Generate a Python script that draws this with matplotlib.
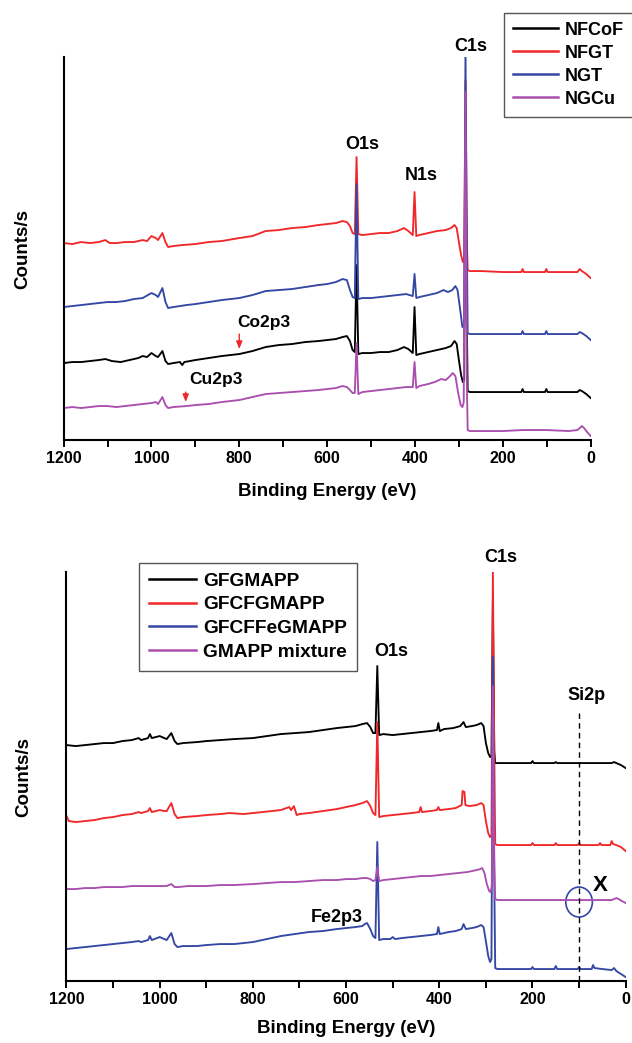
import numpy as np
import matplotlib
matplotlib.use('Agg')
import matplotlib.pyplot as plt
from matplotlib.patches import Ellipse

plt.rcParams['font.family'] = ['Liberation Sans', 'DejaVu Sans']
plt.rcParams['font.weight'] = 'bold'

# ---------------- top panel data (binding energy eV, counts offset) ----------------
nfcof_e = [1200, 1180, 1160, 1140, 1120, 1105, 1090, 1070, 1050, 1030, 1020, 1010, 1000, 990, 985, 975, 968, 962,
           950, 935, 930, 925, 900, 870, 840, 800, 770, 740, 710, 680, 650, 620, 600, 580, 565, 555, 548, 542, 537,
           533, 529, 520, 500, 480, 460, 440, 425, 415, 405, 401, 397, 390, 370, 350, 330, 318, 310, 305, 300, 295,
           291, 288, 285, 282, 280, 275, 250, 200, 158, 155, 152, 104, 101, 98, 50, 30, 25, 20, 10, 0]
nfcof_y = [77, 78, 78, 79, 80, 81, 79, 78, 80, 82, 84, 83, 87, 84, 83, 89, 79, 76,
           77, 78, 75, 78, 80, 82, 84, 86, 89, 93, 95, 96, 98, 99, 100, 101, 103, 104, 99, 90, 88,
           175, 86, 87, 87, 88, 88, 90, 93, 91, 87, 133, 85, 86, 88, 90, 92, 94, 99, 96, 80, 65,
           58, 60, 330, 120, 49, 48, 48, 48, 48, 51, 48, 48, 51, 48, 48, 48, 50, 49, 46, 42]

nfgt_e = [1200, 1180, 1160, 1140, 1120, 1105, 1095, 1080, 1060, 1040, 1020, 1010, 1000, 990, 985, 975, 968, 962,
          950, 930, 900, 870, 840, 800, 770, 740, 710, 680, 650, 620, 600, 580, 565, 555, 548, 542, 537,
          533, 529, 520, 500, 480, 460, 440, 425, 415, 405, 401, 397, 390, 370, 350, 330, 318, 310, 305, 300, 295,
          291, 288, 285, 282, 280, 275, 250, 200, 158, 155, 152, 104, 101, 98, 50, 30, 25, 20, 10, 0]
nfgt_y = [197, 196, 198, 197, 198, 200, 197, 197, 198, 198, 200, 199, 204, 202, 200, 207, 198, 193,
          194, 195, 196, 198, 199, 202, 204, 209, 210, 212, 213, 215, 216, 217, 219, 218, 214, 207, 206,
          283, 206, 205, 206, 207, 207, 209, 212, 209, 205, 248, 204, 205, 207, 209, 210, 212, 215, 212, 198, 185,
          178, 180, 360, 200, 170, 169, 169, 168, 168, 171, 168, 168, 171, 168, 168, 168, 171, 169, 166, 162]

ngt_e = [1200, 1180, 1160, 1140, 1120, 1100, 1080, 1060, 1040, 1020, 1000, 990, 985, 975, 968, 962,
         950, 920, 900, 870, 840, 800, 770, 740, 710, 680, 650, 620, 600, 580, 565, 555, 548, 542, 537,
         533, 529, 520, 500, 480, 460, 440, 420, 405, 401, 397, 390, 370, 350, 335, 325, 315, 308, 303, 297,
         292, 288, 285, 282, 280, 275, 200, 158, 155, 152, 104, 101, 98, 50, 30, 25, 20, 10, 0]
ngt_y = [133, 134, 135, 136, 137, 138, 138, 139, 141, 142, 147, 145, 143, 152, 138, 132,
         133, 135, 136, 138, 140, 142, 145, 149, 150, 151, 153, 155, 156, 158, 161, 160, 150, 143, 142,
         256, 141, 142, 142, 143, 144, 145, 146, 144, 166, 142, 143, 145, 147, 150, 148, 150, 154, 150, 130,
         113, 115, 390, 200, 107, 106, 106, 106, 109, 106, 106, 109, 106, 106, 106, 108, 107, 104, 100]

ngcu_e = [1200, 1180, 1160, 1140, 1120, 1100, 1080, 1060, 1040, 1020, 1000, 990, 985, 975, 968, 962,
          950, 920, 900, 870, 840, 800, 770, 740, 710, 680, 650, 620, 600, 580, 565, 555, 548, 542, 537,
          533, 529, 520, 500, 480, 460, 440, 420, 405, 401, 397, 390, 370, 355, 340, 330, 320, 314, 308, 302,
          296, 292, 289, 285, 282, 280, 275, 200, 155, 100, 50, 30, 20, 15, 8, 0]
ngcu_y = [32, 33, 32, 33, 34, 34, 33, 34, 35, 36, 37, 38, 36, 43, 35, 32,
          33, 34, 35, 36, 38, 40, 43, 46, 47, 48, 49, 50, 51, 52, 54, 53, 50, 47, 47,
          97, 46, 48, 49, 50, 51, 52, 53, 53, 78, 52, 54, 56, 58, 61, 60, 64, 67, 64, 48,
          35, 33, 38, 348, 60, 10, 9, 9, 10, 10, 9, 10, 14, 12, 8, 4]

top_names = ['NFCoF', 'NFGT', 'NGT', 'NGCu']

# ---------------- bottom panel data ----------------
gfg_e = [1200, 1180, 1160, 1140, 1120, 1100, 1080, 1060, 1045, 1040, 1025, 1021, 1017, 1000, 990, 985, 975, 968, 962,
         950, 920, 900, 870, 840, 800, 770, 740, 710, 680, 650, 620, 600, 580, 565, 555, 548, 542, 537,
         533, 529, 520, 500, 480, 460, 440, 420, 405, 402, 399, 390, 370, 355, 348, 343, 330, 320, 310, 305, 300,
         295, 291, 288, 285, 282, 280, 275, 250, 203, 200, 197, 153, 150, 147, 100, 50, 30, 25, 20, 10, 0]
gfg_y = [236, 235, 236, 237, 238, 238, 240, 241, 243, 241, 243, 247, 243, 245, 243, 242, 248, 240, 237,
         238, 239, 240, 241, 242, 243, 245, 247, 248, 249, 251, 253, 254, 255, 257, 258, 254, 248, 248,
         315, 246, 247, 246, 247, 248, 249, 250, 251, 258, 250, 252, 253, 255, 259, 254, 255, 256, 258, 255, 238,
         228, 224, 226, 380, 230, 218, 218, 218, 218, 220, 218, 218, 219, 218, 218, 218, 218, 219, 218, 216, 213]

gfcf_e = [1200, 1195, 1180, 1160, 1140, 1120, 1100, 1080, 1060, 1045, 1040, 1025, 1021, 1017, 1000, 990, 985, 975,
          968, 962, 950, 920, 900, 870, 850, 820, 800, 780, 760, 740, 722, 718, 712, 706, 700, 680, 650, 620, 600,
          580, 565, 555, 548, 542, 537, 533, 529, 520, 500, 480, 460, 443, 440, 437, 420, 405, 402, 399, 380, 365,
          352, 350, 346, 344, 335, 320, 310, 305, 300, 295, 291, 288, 285, 282, 280, 275, 250, 203, 200, 197, 153,
          150, 147, 103, 100, 97, 58, 55, 52, 33, 30, 27, 20, 10, 0]
gfcf_y = [165, 160, 159, 160, 161, 163, 164, 166, 167, 169, 168, 170, 173, 169, 171, 170, 170, 178,
          167, 163, 164, 165, 166, 167, 168, 167, 168, 169, 170, 171, 174, 171, 175, 166, 167, 168, 170, 172, 174,
          176, 178, 180, 175, 168, 166, 259, 164, 165, 166, 167, 168, 169, 174, 169, 170, 171, 174, 171, 172, 173,
          176, 190, 189, 176, 175, 176, 178, 176, 160, 148, 144, 146, 409, 230, 137, 136, 136, 136, 138, 136, 136,
          138, 136, 136, 138, 136, 136, 138, 136, 136, 140, 137, 136, 134, 130]

gfcffe_e = [1200, 1180, 1160, 1140, 1120, 1100, 1080, 1060, 1045, 1040, 1025, 1021, 1017, 1000, 990, 985, 975, 968,
            962, 950, 920, 900, 870, 840, 800, 770, 740, 710, 680, 650, 620, 600, 580, 565, 560, 555, 548, 542,
            537, 533, 529, 520, 505, 500, 495, 480, 460, 440, 420, 405, 402, 399, 380, 365, 352, 348, 343, 330,
            320, 310, 305, 300, 295, 291, 288, 285, 282, 280, 275, 250, 203, 200, 197, 153, 150, 147, 103, 100,
            97, 73, 70, 67, 50, 30, 25, 20, 10, 0]
gfcffe_y = [32, 33, 34, 35, 36, 37, 38, 39, 40, 39, 41, 45, 41, 44, 42, 41, 48, 37,
            34, 35, 35, 36, 37, 37, 39, 42, 45, 47, 49, 50, 52, 53, 54, 55, 57, 58, 52, 45,
            43, 139, 41, 42, 42, 44, 42, 43, 44, 45, 46, 47, 54, 47, 49, 50, 52, 57, 52, 53,
            54, 56, 54, 40, 25, 19, 22, 324, 100, 13, 12, 12, 12, 14, 12, 12, 15, 12, 12, 14,
            12, 12, 16, 13, 12, 11, 13, 10, 7, 4]

gmapp_e = [1200, 1180, 1160, 1140, 1120, 1100, 1080, 1060, 1040, 1020, 1000, 985, 975, 968, 960, 940, 900, 870,
           840, 800, 770, 740, 710, 680, 650, 620, 600, 580, 565, 555, 548, 542, 537, 533, 529, 520, 500, 480,
           460, 440, 420, 400, 380, 360, 340, 330, 320, 312, 308, 303, 298, 293, 290, 287, 285, 282, 280, 275,
           250, 200, 150, 100, 60, 30, 20, 15, 8, 0]
gmapp_y = [92, 92, 93, 93, 94, 94, 94, 95, 95, 95, 95, 95, 97, 94, 94, 95, 95, 96,
           96, 97, 98, 99, 99, 100, 101, 101, 102, 102, 103, 103, 102, 100, 101, 114, 100, 101, 102, 103,
           104, 105, 105, 106, 107, 108, 109, 110, 111, 112, 113, 108, 97, 90, 89, 95, 295, 120, 82, 81,
           81, 81, 81, 81, 81, 81, 83, 82, 80, 78]

bottom_names = ['GFGMAPP', 'GFCFGMAPP', 'GFCFFeGMAPP', 'GMAPP mixture']

colors = {'black': '#000000', 'red': '#f0282a', 'blue': '#3447a4', 'purple': '#aa4fae'}

fig = plt.figure(figsize=(6.32, 10.43), dpi=100)
ax1 = fig.add_axes([0.1006, 0.5781, 0.8340, 0.3672])
ax2 = fig.add_axes([0.1052, 0.0594, 0.8848, 0.3921])

lw = 1.35
ax1.plot(nfcof_e, nfcof_y, color=colors['black'], lw=lw, label=top_names[0])
ax1.plot(nfgt_e, nfgt_y, color=colors['red'], lw=lw, label=top_names[1])
ax1.plot(ngt_e, ngt_y, color=colors['blue'], lw=lw, label=top_names[2])
ax1.plot(ngcu_e, ngcu_y, color=colors['purple'], lw=lw, label=top_names[3])

ax2.plot(gfg_e, gfg_y, color=colors['black'], lw=lw, label=bottom_names[0])
ax2.plot(gfcf_e, gfcf_y, color=colors['red'], lw=lw, label=bottom_names[1])
ax2.plot(gfcffe_e, gfcffe_y, color=colors['blue'], lw=lw, label=bottom_names[2])
ax2.plot(gmapp_e, gmapp_y, color=colors['purple'], lw=lw, label=bottom_names[3])

for ax, ytop, ylx in [(ax1, 383, -0.062), (ax2, 409, -0.062)]:
    ax.set_xlim(1200, 0)
    ax.set_ylim(0, ytop)
    ax.set_xticks([1200, 1000, 800, 600, 400, 200, 0])
    ax.set_xticks([1100, 900, 700, 500, 300, 100], minor=True)
    ax.set_yticks([])
    for s in ['top', 'right']:
        ax.spines[s].set_visible(False)
    for s in ['left', 'bottom']:
        ax.spines[s].set_linewidth(1.5)
    ax.tick_params(axis='x', which='both', direction='out', length=5, width=1.4, labelsize=11.5, pad=3)
    for t in ax.get_xticklabels():
        t.set_fontweight('bold')
    ax.set_ylabel('Counts/s', fontsize=13.5, fontweight='bold')
    ax.yaxis.set_label_coords(ylx, 0.5)
    ax.set_xlabel('Binding Energy (eV)', fontsize=13.5, fontweight='bold')

ax1.xaxis.set_label_coords(0.5, -0.113)
ax2.xaxis.set_label_coords(0.5, -0.095)

leg_kw = dict(loc='upper left', handlelength=2.5, handletextpad=0.35, labelspacing=0.33,
              borderpad=0.5, borderaxespad=0, fancybox=False, framealpha=1, edgecolor='#555555')
l1 = ax1.legend(bbox_to_anchor=(0.7975, 0.9878), bbox_transform=fig.transFigure,
                prop={'weight': 'bold', 'size': 13}, **leg_kw)
l2 = ax2.legend(bbox_to_anchor=(0.2199, 0.4605), bbox_transform=fig.transFigure,
                prop={'weight': 'bold', 'size': 13.8}, **leg_kw)
for l in (l1, l2):
    l.get_frame().set_linewidth(1.0)
    for h in l.get_lines():
        h.set_linewidth(1.8)

# annotations, top
tk = dict(fontsize=13, fontweight='bold', ha='center', va='center', clip_on=False)
ax1.text(521, 296, 'O1s', **tk)
ax1.text(385, 265, 'N1s', **tk)
ax1.text(274, 394, 'C1s', **tk)
ax1.text(805, 118, 'Co2p3', fontsize=12.5, fontweight='bold', ha='left', va='center')
ax1.text(915, 61, 'Cu2p3', fontsize=12.5, fontweight='bold', ha='left', va='center')
arr = dict(arrowstyle='-|>,head_length=0.45,head_width=0.18', color=colors['red'], lw=1.0,
           shrinkA=0, shrinkB=0)
ax1.annotate('', xy=(800, 91), xytext=(800, 106), arrowprops=arr)
ax1.annotate('', xy=(922, 38), xytext=(922, 48), arrowprops=arr)

# annotations, bottom
ax2.text(504, 330, 'O1s', **tk)
ax2.text(268, 424, 'C1s', **tk)
ax2.text(85, 286, 'Si2p', **tk)
ax2.text(620, 64, 'Fe2p3', **tk)
ax2.text(54, 96, 'X', fontsize=16, fontweight='bold', ha='center', va='center')
ax2.plot([100, 100], [0, 268], color='black', lw=1.0, ls=(0, (4, 3)))
ax2.add_patch(Ellipse((100, 79), 57, 30, fill=False, edgecolor=colors['blue'], lw=1.2))

fig.savefig('out.png', dpi=100)
